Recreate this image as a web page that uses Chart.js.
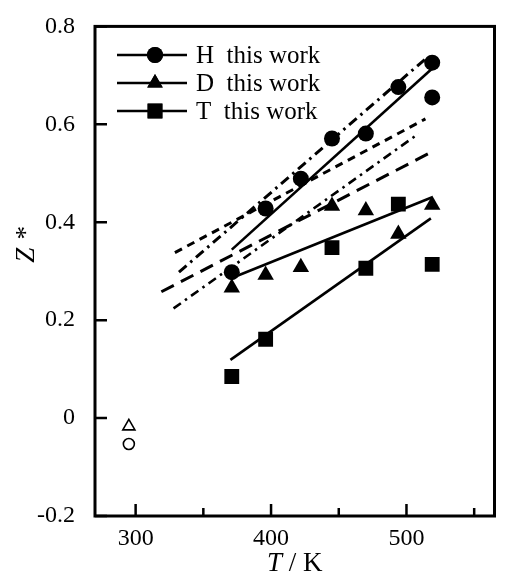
<!DOCTYPE html>
<html>
<head>
<meta charset="utf-8">
<script src="https://cdn.jsdelivr.net/npm/chart.js@4.4.1/dist/chart.umd.min.js"></script>
<style>
  html, body { margin: 0; padding: 0; background: #fff; }
  #wrap { width: 505px; height: 576px; }
</style>
</head>
<body>
<div id="wrap"><canvas id="zchart" width="505" height="576"></canvas></div>
<script>
// measured points (T in K, Z*)
const hT = [371, 396, 422, 445, 470, 494, 519, 519];
const hZ = [0.298, 0.428, 0.489, 0.571, 0.581, 0.676, 0.726, 0.655];
const dT = [371, 396, 422, 445, 470, 494, 519];
const dZ = [0.266, 0.292, 0.308, 0.433, 0.424, 0.376, 0.435];
const tT = [371, 396, 445, 470, 494, 519];
const tZ = [0.085, 0.161, 0.348, 0.306, 0.437, 0.314];

// room temperature values (open symbols)
const roomT = [295];
const roomHZ = [-0.053];
const roomDZ = [-0.017];

// fits of this work
const hFitT = [371, 519];
const hFitZ = [0.344, 0.714];
const dFitT = [371, 519];
const dFitZ = [0.286, 0.451];
const tFitT = [370, 518];
const tFitZ = [0.119, 0.408];

// literature lines
const lit1T = [332, 515];
const lit1Z = [0.298, 0.736];
const lit2T = [329, 514];
const lit2Z = [0.338, 0.611];
const lit3T = [328, 509];
const lit3Z = [0.224, 0.581];
const lit4T = [319, 521];
const lit4Z = [0.258, 0.547];

// axes
const xMajor = [300, 400, 500];
const xMinor = [350, 450, 550];
const yTicks = [-0.2, 0, 0.2, 0.4, 0.6, 0.8];

const legendRows = [
  { style: "circle", r: 8, label: "H  this work" },
  { style: "triangle", r: 9, label: "D  this work" },
  { style: "rect", r: 10.5, label: "T  this work" }
];

const pts = (xs, ys) => xs.map((x, i) => ({ x: x, y: ys[i] }));
const FONT = "'Liberation Serif', 'Times New Roman', Tinos, serif";

function marks(label, xs, ys, style, r) {
  return {
    label: label, data: pts(xs, ys), pointStyle: style, pointRadius: r,
    pointHoverRadius: r, backgroundColor: "#000", borderColor: "#000",
    borderWidth: 0, showLine: false
  };
}
function openMarks(label, xs, ys, style, r) {
  return {
    label: label, data: pts(xs, ys), pointStyle: style, pointRadius: r,
    pointHoverRadius: r, backgroundColor: "#fff", borderColor: "#000",
    borderWidth: 1.6, showLine: false
  };
}
function line(label, xs, ys, width, dash) {
  return {
    label: label, data: pts(xs, ys), showLine: true, pointRadius: 0,
    borderColor: "#000", borderWidth: width, borderDash: dash, fill: false
  };
}

const decor = {
  id: "decor",
  afterDraw(chart) {
    const ctx = chart.ctx;
    const a = chart.chartArea;
    const xs = chart.scales.x, ys = chart.scales.y;
    ctx.save();
    ctx.strokeStyle = "#000";
    ctx.fillStyle = "#000";

    // frame
    ctx.lineWidth = 3;
    ctx.strokeRect(a.left, a.top, a.right - a.left, a.bottom - a.top);

    // inward ticks
    ctx.lineWidth = 2.5;
    ctx.beginPath();
    xMajor.forEach(v => {
      const p = xs.getPixelForValue(v);
      ctx.moveTo(p, a.bottom); ctx.lineTo(p, a.bottom - 12);
    });
    xMinor.forEach(v => {
      const p = xs.getPixelForValue(v);
      ctx.moveTo(p, a.bottom); ctx.lineTo(p, a.bottom - 8);
    });
    yTicks.forEach(v => {
      const p = ys.getPixelForValue(v);
      ctx.moveTo(a.left, p); ctx.lineTo(a.left + 12, p);
    });
    ctx.stroke();

    // legend
    legendRows.forEach((row, i) => {
      const y = 55 + i * 28;
      ctx.lineWidth = 2.5;
      ctx.beginPath();
      ctx.moveTo(117, y); ctx.lineTo(187, y);
      ctx.stroke();
      Chart.helpers.drawPoint(ctx, { pointStyle: row.style, radius: row.r, rotation: 0, borderWidth: 0 }, 155, y);
      ctx.fill();
      ctx.font = "25px " + FONT;
      ctx.textAlign = "left";
      ctx.textBaseline = "middle";
      ctx.fillText(row.label, 196, y + 1);
    });

    // x title: T / K
    ctx.textBaseline = "alphabetic";
    ctx.font = "italic 27px " + FONT;
    const wT = ctx.measureText("T").width;
    ctx.font = "27px " + FONT;
    const wRest = ctx.measureText(" / K").width;
    let x0 = (a.left + a.right) / 2 - (wT + wRest) / 2;
    ctx.font = "italic 27px " + FONT;
    ctx.fillText("T", x0, 571);
    ctx.font = "27px " + FONT;
    ctx.fillText(" / K", x0 + wT, 571);

    // y title: Z*
    ctx.translate(27, 245);
    ctx.rotate(-Math.PI / 2);
    ctx.textAlign = "center";
    ctx.textBaseline = "middle";
    ctx.font = "italic 27px " + FONT;
    ctx.fillText("Z *", 0, 0);
    ctx.restore();
  }
};

function draw() {
  new Chart(document.getElementById("zchart").getContext("2d"), {
    type: "scatter",
    data: {
      datasets: [
        line("lit1", lit1T, lit1Z, 3, [10, 5, 2.5, 5]),
        line("lit2", lit2T, lit2Z, 3, [8, 6]),
        line("lit3", lit3T, lit3Z, 2.6, [9, 5, 2.5, 5]),
        line("lit4", lit4T, lit4Z, 3, [14, 8]),
        line("H fit", hFitT, hFitZ, 2.6, []),
        line("D fit", dFitT, dFitZ, 2.6, []),
        line("T fit", tFitT, tFitZ, 2.6, []),
        marks("H", hT, hZ, "circle", 8),
        marks("D", dT, dZ, "triangle", 9.5),
        marks("T", tT, tZ, "rect", 10.5),
        openMarks("H 295 K", roomT, roomHZ, "circle", 5.5),
        openMarks("D 295 K", roomT, roomDZ, "triangle", 7)
      ]
    },
    options: {
      responsive: false,
      devicePixelRatio: 1,
      animation: false,
      layout: { padding: { top: 18, right: 3, left: 0, bottom: 0 } },
      plugins: {
        legend: { display: false },
        tooltip: { enabled: false }
      },
      scales: {
        x: {
          type: "linear",
          min: 270,
          max: 565,
          afterBuildTicks: s => { s.ticks = xMajor.concat(xMinor).sort((a, b) => a - b).map(v => ({ value: v })); },
          afterFit: s => { s.height = 60; },
          grid: { display: false },
          border: { display: false },
          ticks: {
            color: "#000",
            font: { family: FONT, size: 24 },
            padding: 0,
            maxRotation: 0,
            autoSkip: false,
            callback: v => xMajor.includes(v) ? String(v) : ""
          }
        },
        y: {
          type: "linear",
          min: -0.2,
          max: 0.8,
          afterBuildTicks: s => { s.ticks = yTicks.map(v => ({ value: v })); },
          afterFit: s => { s.width = 95; },
          grid: { display: false },
          border: { display: false },
          ticks: {
            color: "#000",
            font: { family: FONT, size: 24 },
            padding: 12,
            callback: v => v === 0 ? "0" : v.toFixed(1)
          }
        }
      }
    },
    plugins: [decor]
  });
}

Promise.all([
  document.fonts.load("24px 'Liberation Serif'"),
  document.fonts.load("italic 24px 'Liberation Serif'")
]).then(draw, draw);
</script>
</body>
</html>
